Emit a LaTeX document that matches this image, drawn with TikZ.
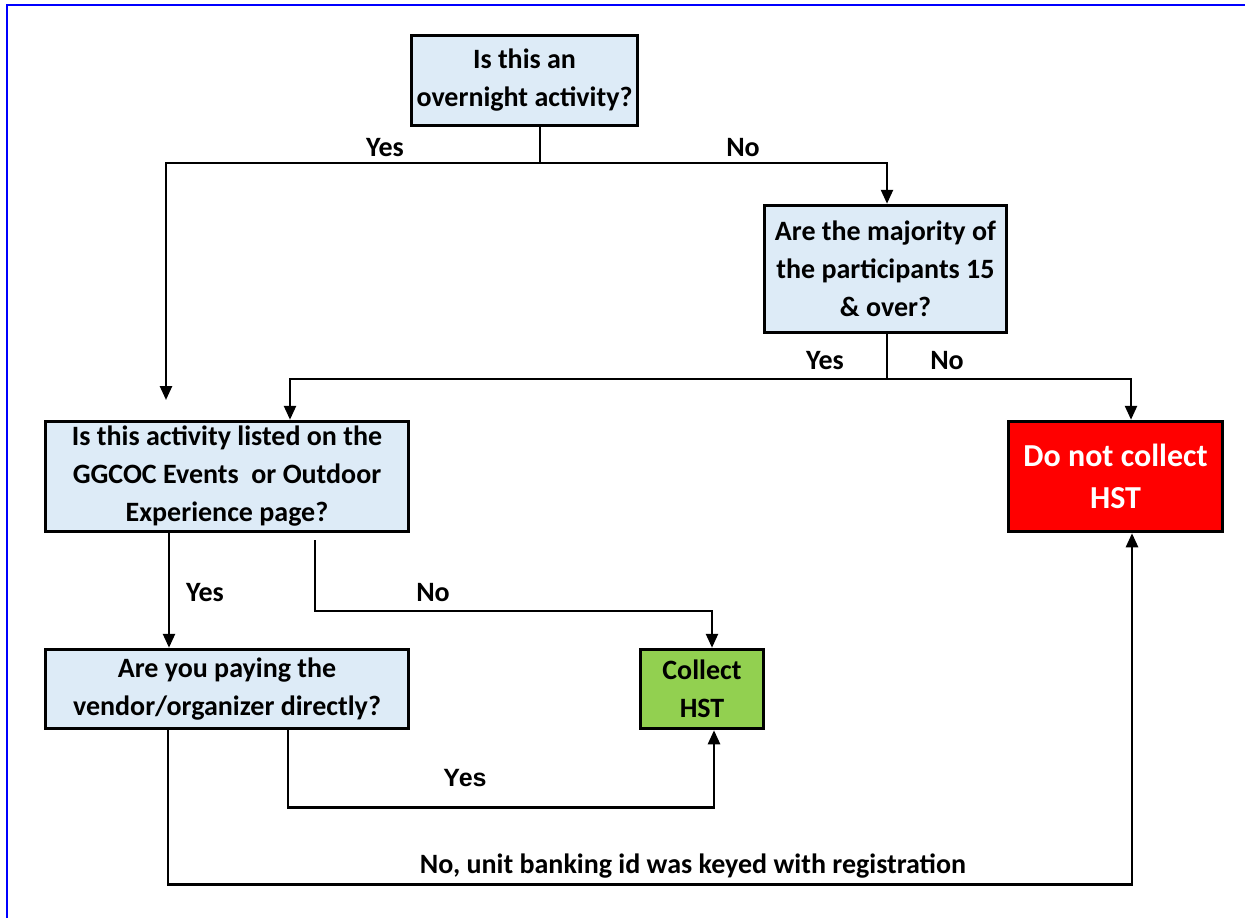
\documentclass[tikz,border=0pt]{standalone}
\usepackage{fontspec}
\setmainfont{Carlito}
\newfontfamily\arialfont{Liberation Sans}
\usetikzlibrary{arrows.meta}

\definecolor{qblue}{RGB}{221,235,247}
\definecolor{yesgreen}{RGB}{146,208,80}
\definecolor{nored}{RGB}{255,0,0}
\definecolor{frameblue}{RGB}{0,0,255}

\tikzset{
  box/.style={draw, line width=3.5pt, inner sep=0pt, align=center,
    font=\bfseries\fontsize{28}{38}\selectfont},
  question/.style={box, fill=qblue},
  lbl/.style={font=\bfseries\fontsize{28}{34}\selectfont, inner sep=0pt},
  link/.style={line width=2.5pt},
  >={Triangle[width=12pt,length=14pt]}
}

\begin{document}
\begin{tikzpicture}[x=1pt, y=-1pt]
\useasboundingbox (0,0) rectangle (1245,918);

% page frame
\draw[frameblue, line width=2pt] (7,918) -- (7,5) -- (1245,5);

\node[question, minimum width=226, minimum height=90] (A) at (524.5,80.5)
  {Is this an\\overnight activity?};
\node[question, minimum width=242, minimum height=127] (B) at (885.5,269)
  {Are the majority of\\the participants 15\\\& over?};
\node[question, minimum width=363, minimum height=110] (C) at (227,476.5)
  {Is this activity listed on the\\GGCOC Events\ \ or Outdoor\\Experience page?};
\node[box, fill=nored, text=white, minimum width=214, minimum height=110,
  font=\bfseries\fontsize{32}{42}\selectfont] (D) at (1115.5,476.5)
  {Do not collect\\HST};
\node[question, minimum width=363, minimum height=79] (E) at (227,689)
  {Are you paying the\\vendor/organizer directly?};
\node[box, fill=yesgreen, minimum width=123, minimum height=79] (F) at (702,689)
  {Collect\\HST};

\coordinate (t1) at (540,163);
\coordinate (e1) at (166,400);
\coordinate (t2) at (887,379);
\coordinate (n1) at (315,540);

% first question
\draw[link] (A.south -| t1) -- (t1);
\draw[link,->] (t1) -| (e1);
\draw[link,->] (t1) -| ([xshift=1.5pt]B.north);

% second question
\draw[link] ([xshift=1.5pt]B.south) -- (t2);
\draw[link,->] (t2) -| ([xshift=63pt]C.north);
\draw[link,->] (t2) -| ([xshift=15.5pt]D.north);

% third question
\draw[link,->] ([xshift=-58pt]C.south) -- ([xshift=-58pt]E.north);
\draw[link,->] (n1) -- ++(0,71) -| ([xshift=10pt]F.north);

% last question
\draw[link,->] ([xshift=61pt]E.south) -- ++(0,77) -| ([xshift=12pt]F.south);
\draw[link,->] ([xshift=-59pt]E.south) -- ++(0,154) -| ([xshift=16.5pt]D.south);

\node[lbl] (y1) at (385,148) {Yes};
\node[lbl] (o1) at (743,148) {No};
\node[lbl] (y2) at (825,361) {Yes};
\node[lbl] (o2) at (947,361) {No};
\node[lbl] (y3) at (205,593) {Yes};
\node[lbl] (o3) at (433,593) {No};
\node[lbl, font=\arialfont\bfseries\fontsize{25}{30}\selectfont] (y4) at (465,778) {Yes};
\node[lbl] (o4) at (693,866) {No, unit banking id was keyed with registration};

\end{tikzpicture}
\end{document}
